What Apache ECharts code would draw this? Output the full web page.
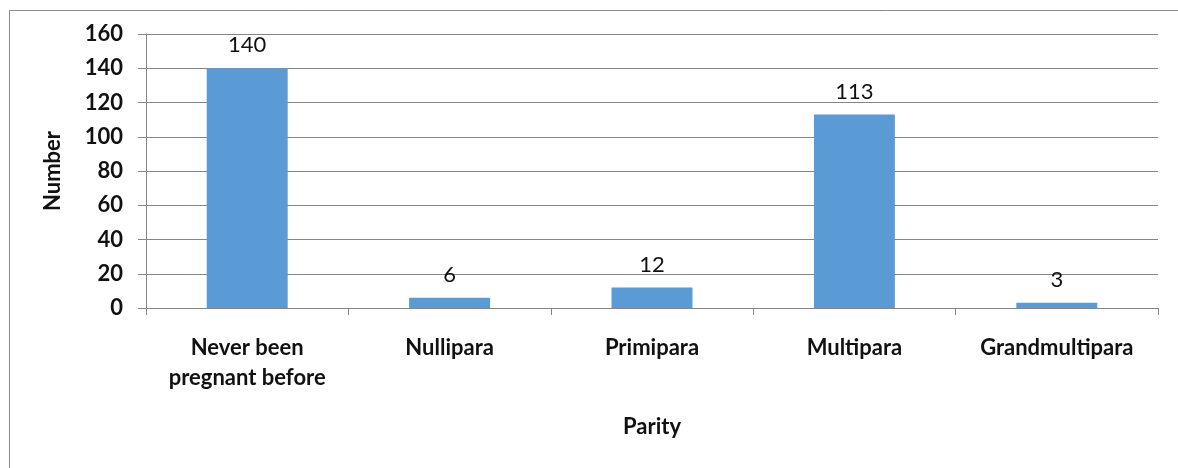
<!DOCTYPE html>
<html>
<head>
<meta charset="utf-8">
<script src="https://cdn.jsdelivr.net/npm/echarts@6/dist/echarts.min.js"></script>
<style>
  html, body { margin: 0; padding: 0; background: #fff; }
  #chart { width: 1178px; height: 468px; }
</style>
</head>
<body>
<div id="chart"></div>
<script>
// Parity distribution
const categories = ['Never been\npregnant before', 'Nullipara', 'Primipara', 'Multipara', 'Grandmultipara'];
const counts = [140, 6, 12, 113, 3];
const yTicks = { min: 0, max: 160, interval: 20 };

const font = 'Lato, "Open Sans", sans-serif';
const chart = echarts.init(document.getElementById('chart'));
chart.setOption({
  animation: false,
  // outer chart frame (runs off the right and bottom edges)
  graphic: [{
    type: 'rect', left: 7, top: 8,
    shape: { width: 1200, height: 500 },
    style: { fill: 'none', stroke: '#8c8c8c', lineWidth: 1 }
  }],
  grid: { left: 146, right: 20, top: 34, bottom: 160 },
  xAxis: {
    type: 'category',
    data: categories,
    name: 'Parity',
    nameLocation: 'middle',
    nameGap: 108,
    nameTextStyle: { fontFamily: font, fontWeight: 'bold', fontSize: 22, color: '#111' },
    axisLine: { lineStyle: { color: '#868686', width: 1 } },
    axisTick: { show: true, length: 7, alignWithLabel: false, lineStyle: { color: '#868686' } },
    axisLabel: { fontFamily: font, fontWeight: 'bold', fontSize: 22, color: '#111', margin: 25, lineHeight: 30, interval: 0 }
  },
  yAxis: {
    type: 'value',
    min: yTicks.min, max: yTicks.max, interval: yTicks.interval,
    name: 'Number',
    nameLocation: 'middle',
    nameGap: 82,
    nameRotate: 90,
    nameTextStyle: { fontFamily: font, fontWeight: 'bold', fontSize: 22, color: '#111' },
    axisLine: { show: true, lineStyle: { color: '#868686', width: 1 } },
    axisTick: { show: true, length: 8, lineStyle: { color: '#868686' } },
    axisLabel: { fontFamily: font, fontWeight: 'bold', fontSize: 22, color: '#111', margin: 23 },
    splitLine: { lineStyle: { color: '#868686', width: 1 } }
  },
  series: [{
    type: 'bar',
    data: counts,
    barCategoryGap: '60%',
    itemStyle: { color: '#5B9BD5' },
    label: {
      show: true, position: 'top', distance: 12,
      fontFamily: font, fontSize: 22, color: '#111'
    }
  }]
});
</script>
</body>
</html>
